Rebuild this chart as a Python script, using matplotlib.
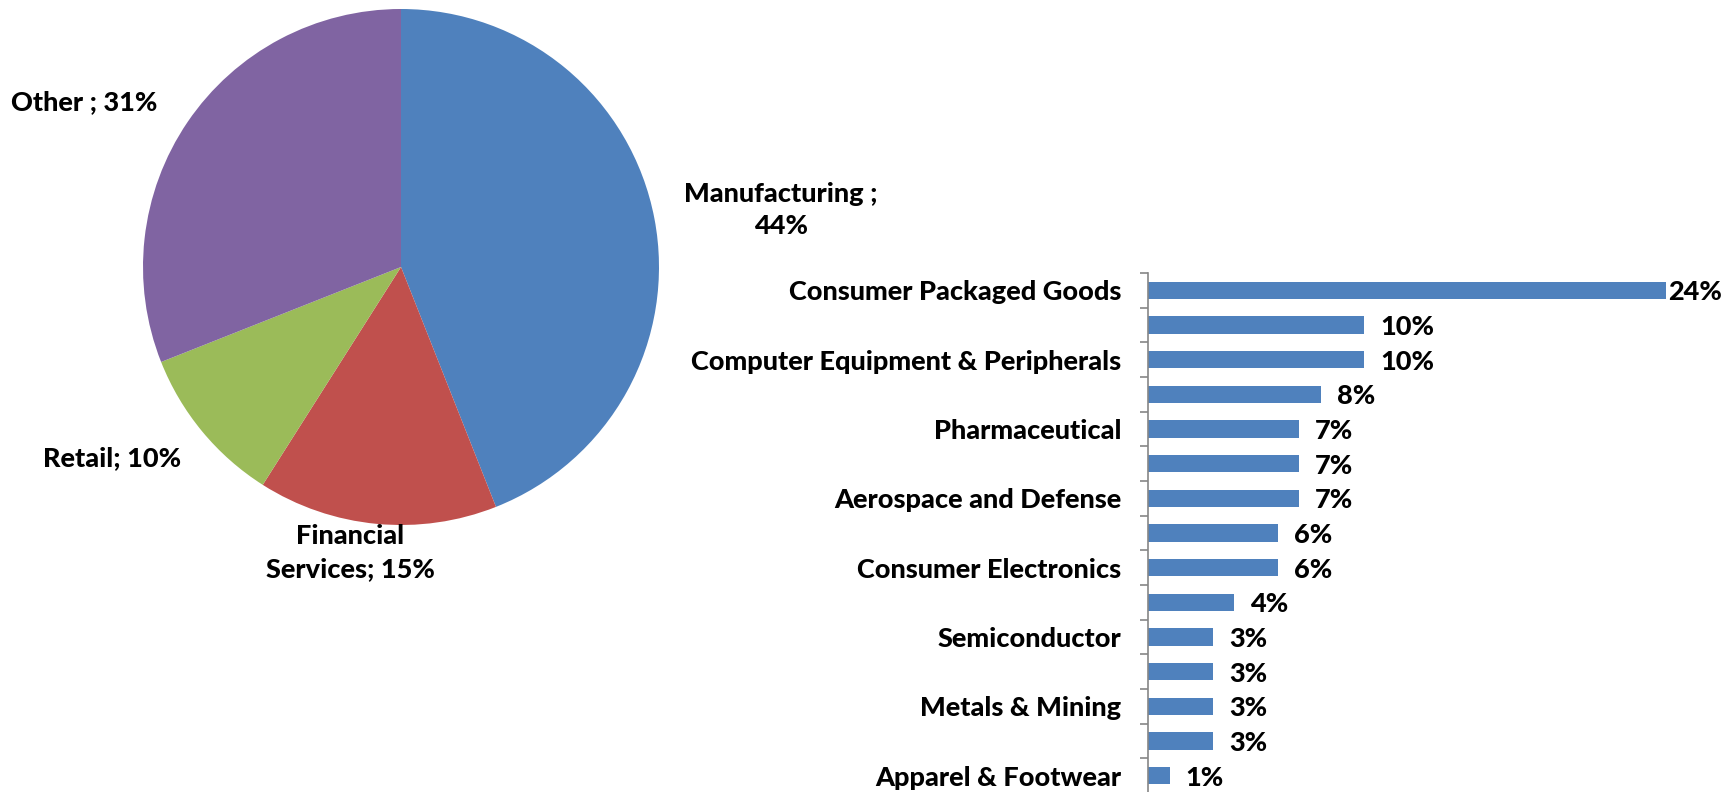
import matplotlib
matplotlib.use("Agg")
import matplotlib.pyplot as plt

plt.rcParams["font.family"] = ["Lato", "DejaVu Sans"]

# Industry split (pie)
pie_labels = ["Manufacturing ;\n44%", "Financial\nServices; 15%", "Retail; 10%", "Other ; 31%"]
pie_values = [44, 15, 10, 31]
pie_colors = ["#4F81BD", "#C0504D", "#9BBB59", "#8064A2"]

# Manufacturing breakdown (bars), top to bottom; only every other name is shown
bar_labels = ["Consumer Packaged Goods", "", "Computer Equipment & Peripherals", "",
              "Pharmaceutical", "", "Aerospace and Defense", "", "Consumer Electronics", "",
              "Semiconductor", "", "Metals & Mining", "", "Apparel & Footwear"]
bar_values = [24, 10, 10, 8, 7, 7, 7, 6, 6, 4, 3, 3, 3, 3, 1]

W, H = 1724, 792
fig = plt.figure(figsize=(W / 100, H / 100), dpi=100)

fs = 19.5
fw = "black"

# pie
cx, cy, r = 401, 267, 258
ax1 = fig.add_axes([(cx - r) / W, (H - cy - r) / H, 2 * r / W, 2 * r / H])
ax1.pie(pie_values, colors=pie_colors, startangle=90, counterclock=False, radius=1,
        wedgeprops=dict(linewidth=0))
ax1.set_xlim(-1, 1)
ax1.set_ylim(-1, 1)
ax1.set_aspect("equal")

label_pos = [(781, 210, "center"), (350, 553, "center"), (112, 458, "center"), (11, 102, "left")]
for text, (px, py, ha) in zip(pie_labels, label_pos):
    fig.text(px / W, 1 - py / H, text, ha=ha, va="center", fontsize=fs,
             fontweight=fw, linespacing=1.45)

# bars
left, top, right, bottom = 1148, 273, 1688, 793
ax2 = fig.add_axes([left / W, (H - bottom) / H, (right - left) / W, (bottom - top) / H])
ypos = list(range(len(bar_values)))
ax2.barh(ypos, [v / 100 for v in bar_values], height=0.5, color="#4F81BD")
ax2.set_xlim(0, 0.25)
ax2.set_ylim(len(bar_values) - 0.5, -0.5)
ax2.set_yticks(ypos)
ax2.set_yticklabels(bar_labels, fontsize=fs, fontweight=fw)
ax2.set_yticks([i - 0.5 for i in range(len(bar_values) + 1)], minor=True)
ax2.tick_params(axis="y", which="major", length=0, pad=19)
ax2.tick_params(axis="y", which="minor", length=6, color="#868686", width=1.2)
ax2.set_xticks([])
for s in ["top", "right", "bottom"]:
    ax2.spines[s].set_visible(False)
ax2.spines["left"].set_color("#868686")
ax2.spines["left"].set_linewidth(1.2)

vmax = max(bar_values)
for y, v in zip(ypos, bar_values):
    off = 2 if v == vmax else 16
    ax2.annotate(f"{v}%", (v / 100, y), xytext=(off, -2), textcoords="offset pixels",
                 ha="left", va="center", fontsize=fs, fontweight=fw, annotation_clip=False)

fig.savefig("out.png", dpi=100)
